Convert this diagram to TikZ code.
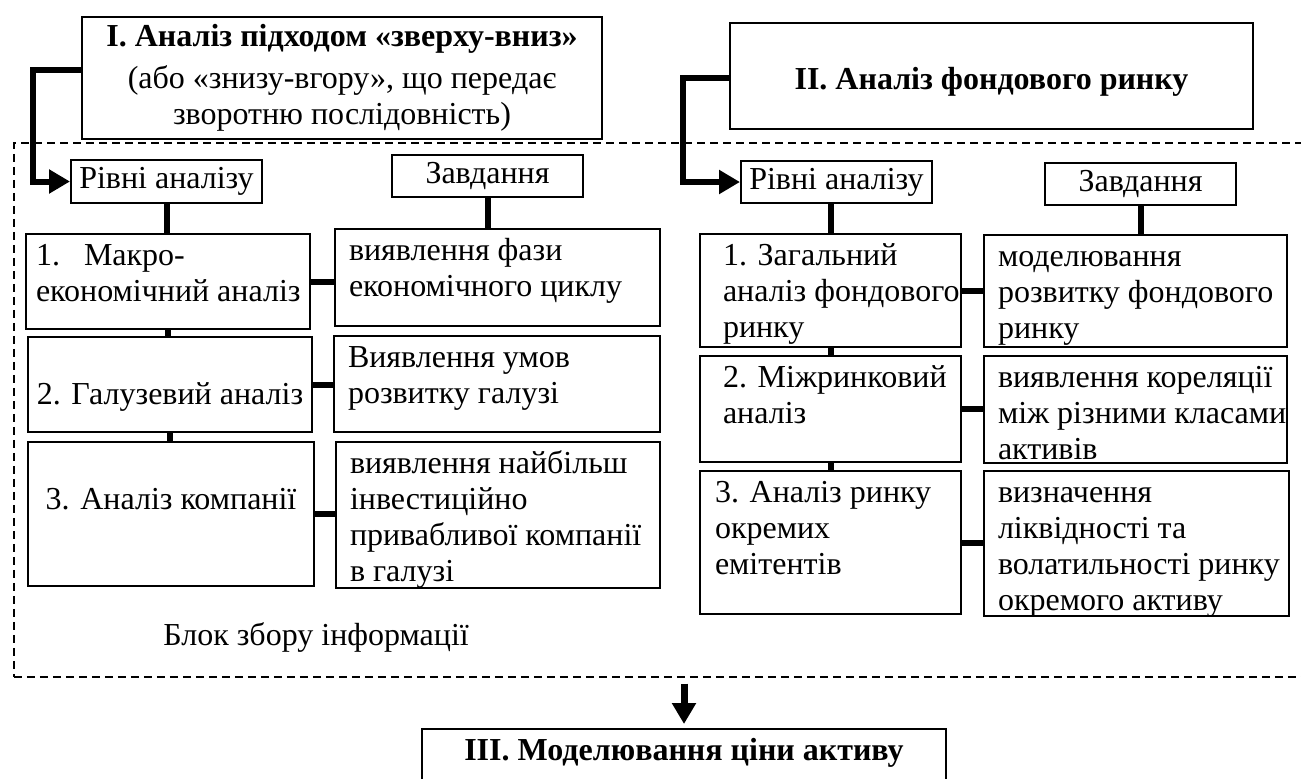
\documentclass[tikz,border=0pt]{standalone}
\usepackage{fontspec}
\setmainfont{Liberation Serif}
\usetikzlibrary{arrows.meta}
\tikzset{
    cell/.style = {draw, line width = 1pt, anchor = north west, inner sep = 0pt},
    head/.style = {cell, align = center},
    frame/.style = {draw, dash pattern = on 4pt off 2.5pt, line width = 0.8pt, anchor = north west, inner sep = 0pt},
    link/.style = {line width = 3pt},
    tip/.style = {line width = 3pt, -{Triangle[length = 10.5pt, width = 11.5pt]}}
}
% text in a box of fixed size: width, height, indent, text
\newcommand{\cellL}[4]{\parbox[c][#2][t]{#1}{\vspace*{3pt}\raggedright\leftskip=#3\relax\rightskip=-3em plus 1fil\strut#4}}
\newcommand{\cellC}[3]{\parbox[c][#2][t]{#1}{\vspace*{3pt}\centering\leftskip=-2em plus 1fil\rightskip=-2em plus 1fil\strut#3}}

\begin{document}
\begin{tikzpicture}
        [
            x = 0.5pt, y = -0.5pt,
            font = \fontsize{16pt}{18pt}\selectfont
        ]
        \useasboundingbox (0,0) rectangle (1301,778);
        \node[frame, minimum width = 660pt, minimum height = 267pt] (infoblock) at (13,142) {};
        \node[anchor = west, inner sep = 0pt] (infolabel) at (163,637) {Блок збору інформації};
        % stages
        \node[head, minimum width = 260pt, minimum height = 61pt]   (topI)   at (81,16)  {\textbf{I. Аналіз підходом «зверху-вниз»}\\[3pt](або «знизу-вгору», що передає\\зворотню послідовність)};
        \node[head, minimum width = 261.5pt, minimum height = 53pt, text height = 17pt, text depth = 4pt] (topII) at (729,22) {\textbf{II. Аналіз фондового ринку}};
        \node[cell]                                                 (topIII) at (421,728) {\cellC{262pt}{40pt}{\textbf{III. Моделювання ціни активу}}};
        % left column
        \node[head, minimum width = 95.5pt, minimum height = 21.5pt] (lvlL)  at (70,159)  {Рівні аналізу};
        \node[head, minimum width = 95.5pt, minimum height = 21pt]   (taskL) at (391,154) {Завдання};
        \node[cell] (L1) at (25,233)  {\cellL{142pt}{47.5pt}{5pt}{1.\hspace{12pt}Макро-\\економічний аналіз}};
        \node[cell] (T1) at (334,228) {\cellL{162.5pt}{48.5pt}{7pt}{виявлення фази\\економічного циклу}};
        \node[cell] (L2) at (27,336)  {\cellC{142pt}{47.5pt}{\\2. Галузевий аналіз}};
        \node[cell] (T2) at (333,335) {\cellL{163pt}{48pt}{7pt}{Виявлення умов\\розвитку галузі}};
        \node[cell] (L3) at (27,441)  {\cellC{143pt}{72pt}{\\3. Аналіз компанії}};
        \node[cell] (T3) at (335,441) {\cellL{162pt}{73pt}{7pt}{виявлення найбільш\\інвестиційно\\привабливої компанії\\в галузі}};
        % right column
        \node[head, minimum width = 95.5pt, minimum height = 21pt] (lvlR)  at (740,160)  {Рівні аналізу};
        \node[head, minimum width = 95.5pt, minimum height = 21pt] (taskR) at (1044,162) {Завдання};
        \node[cell] (R1)  at (699,233) {\cellL{130.5pt}{56.5pt}{11.5pt}{1. Загальний\\аналіз фондового\\ринку}};
        \node[cell] (RT1) at (983,234) {\cellL{151.5pt}{56pt}{7pt}{моделювання\\розвитку фондового\\ринку}};
        \node[cell] (R2)  at (699,355) {\cellL{130.5pt}{53pt}{11.5pt}{2. Міжринковий\\аналіз}};
        \node[cell] (RT2) at (983,355) {\cellL{151.5pt}{53.5pt}{7pt}{виявлення кореляції\\між різними класами\\активів}};
        \node[cell] (R3)  at (699,470) {\cellL{130.5pt}{71.5pt}{7.5pt}{3. Аналіз ринку\\окремих\\емітентів}};
        \node[cell] (RT3) at (983,470) {\cellL{152.5pt}{72.5pt}{7pt}{визначення\\ліквідності та\\волатильності ринку\\окремого активу}};
        % arrows
        \draw[tip]  ([yshift = 4pt]topI.west) -- ++(-24pt,0) |- (lvlL);
        \draw[tip]  ([yshift = -1pt]topII.west) -- ++(-23pt,0) |- (lvlR);
        \draw[tip, line width = 3.5pt] ([yshift = -3pt]infoblock.south -| topIII.north) -- ([yshift = 2pt]topIII.north);
        % links
        \draw[link] (lvlL.south)  -- (lvlL.south |- L1.north);
        \draw[link] (taskL.south) -- (taskL.south |- T1.north);
        \draw[link] (L1.south)    -- (L1.south |- L2.north);
        \draw[link] (L2.south)    -- (L2.south |- L3.north);
        \draw[link] (L1.east)     -- (L1.east -| T1.west);
        \draw[link] (L2.east)     -- (L2.east -| T2.west);
        \draw[link] (L3.east)     -- (L3.east -| T3.west);
        \draw[link] (R1.north |- lvlR.south) -- (R1.north);
        \draw[link] (taskR.south) -- (taskR.south |- RT1.north);
        \draw[link] (R1.south)    -- (R2.north);
        \draw[link] (R2.south)    -- (R3.north);
        \draw[link] (R1.east)     -- (R1.east -| RT1.west);
        \draw[link] (R2.east)     -- (R2.east -| RT2.west);
        \draw[link] (R3.east)     -- (R3.east -| RT3.west);
    \end{tikzpicture}
\end{document}
